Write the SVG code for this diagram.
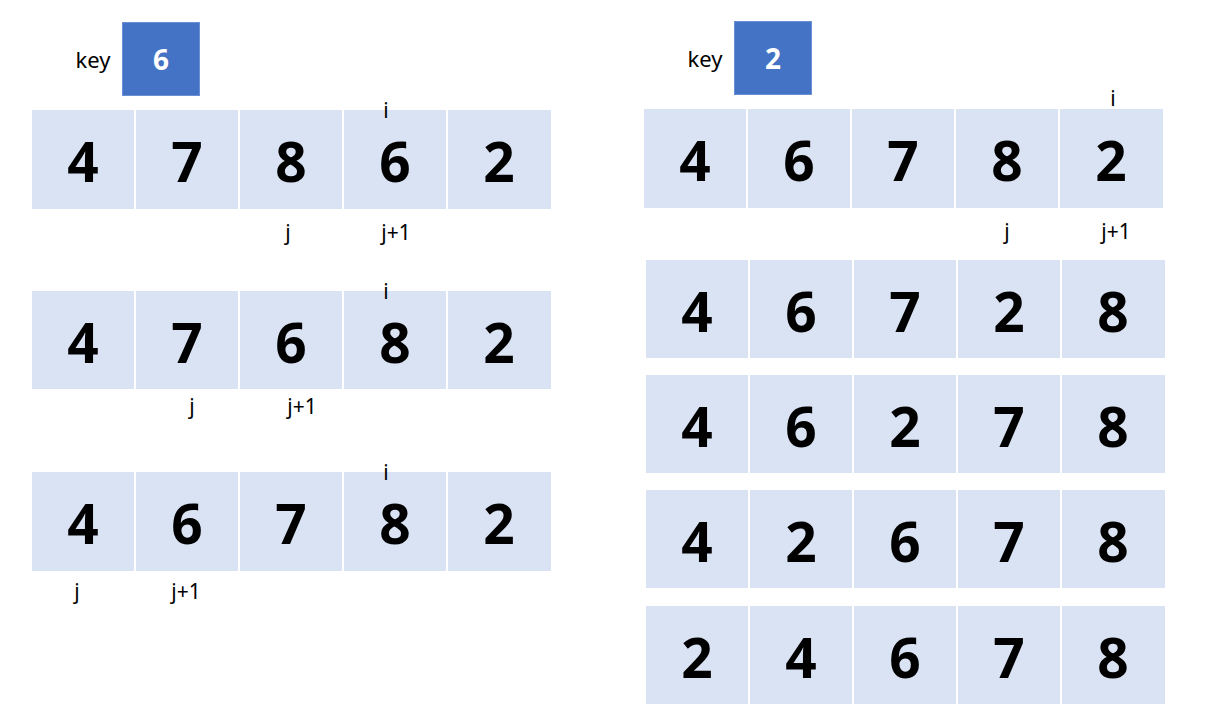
<svg xmlns="http://www.w3.org/2000/svg" width="1212" height="720" viewBox="0 0 1212 720">
<style>
.cell{fill:#DAE3F3}
.num{font-family:"Noto Sans","Liberation Sans",sans-serif;font-weight:bold;font-size:55px;fill:#000;text-anchor:middle}
.lbl{font-family:"Noto Sans","Liberation Sans",sans-serif;font-size:21px;fill:#000;text-anchor:middle}
.keytxt{font-family:"Noto Sans","Liberation Sans",sans-serif;font-size:22px;fill:#000;text-anchor:middle}
.keybox{fill:#4472C4;stroke:#6A8FD3;stroke-width:1}
.keynum{font-family:"Noto Sans","Liberation Sans",sans-serif;font-weight:bold;font-size:28px;fill:#fff;text-anchor:middle}
</style>
<rect width="1212" height="720" fill="#fff"/>

<g id="key-left">
<text class="keytxt" x="93" y="68">key</text>
<rect class="keybox" x="122.5" y="22.5" width="77" height="73"/>
<text class="keynum" x="161" y="70">6</text>
</g>

<g id="key-right">
<text class="keytxt" x="705" y="67">key</text>
<rect class="keybox" x="734.5" y="21.5" width="77" height="73"/>
<text class="keynum" x="773" y="69">2</text>
</g>

<g id="left-row1">
<rect class="cell" x="32" y="110" width="102" height="99"/>
<rect class="cell" x="136" y="110" width="102" height="99"/>
<rect class="cell" x="240" y="110" width="102" height="99"/>
<rect class="cell" x="344" y="110" width="102" height="99"/>
<rect class="cell" x="448" y="110" width="103" height="99"/>
<text class="num" x="83" y="182">4</text>
<text class="num" x="187" y="182">7</text>
<text class="num" x="291" y="182">8</text>
<text class="num" x="395" y="182">6</text>
<text class="num" x="499" y="182">2</text>
<text class="lbl" x="386" y="118">i</text>
<text class="lbl" x="288" y="240">j</text>
<text class="lbl" x="396" y="240">j+1</text>
</g>

<g id="left-row2">
<rect class="cell" x="32" y="291" width="102" height="98"/>
<rect class="cell" x="136" y="291" width="102" height="98"/>
<rect class="cell" x="240" y="291" width="102" height="98"/>
<rect class="cell" x="344" y="291" width="102" height="98"/>
<rect class="cell" x="448" y="291" width="103" height="98"/>
<text class="num" x="83" y="363">4</text>
<text class="num" x="187" y="363">7</text>
<text class="num" x="291" y="363">6</text>
<text class="num" x="395" y="363">8</text>
<text class="num" x="499" y="363">2</text>
<text class="lbl" x="386" y="299">i</text>
<text class="lbl" x="192" y="414">j</text>
<text class="lbl" x="302" y="414">j+1</text>
</g>

<g id="left-row3">
<rect class="cell" x="32" y="472" width="102" height="99"/>
<rect class="cell" x="136" y="472" width="102" height="99"/>
<rect class="cell" x="240" y="472" width="102" height="99"/>
<rect class="cell" x="344" y="472" width="102" height="99"/>
<rect class="cell" x="448" y="472" width="103" height="99"/>
<text class="num" x="83" y="544">4</text>
<text class="num" x="187" y="544">6</text>
<text class="num" x="291" y="544">7</text>
<text class="num" x="395" y="544">8</text>
<text class="num" x="499" y="544">2</text>
<text class="lbl" x="386" y="480">i</text>
<text class="lbl" x="77" y="599">j</text>
<text class="lbl" x="186" y="599">j+1</text>
</g>

<g id="right-row1">
<rect class="cell" x="644" y="109" width="102" height="99"/>
<rect class="cell" x="748" y="109" width="102" height="99"/>
<rect class="cell" x="852" y="109" width="102" height="99"/>
<rect class="cell" x="956" y="109" width="102" height="99"/>
<rect class="cell" x="1060" y="109" width="103" height="99"/>
<text class="num" x="695" y="181">4</text>
<text class="num" x="799" y="181">6</text>
<text class="num" x="903" y="181">7</text>
<text class="num" x="1007" y="181">8</text>
<text class="num" x="1111" y="181">2</text>
<text class="lbl" x="1113" y="106">i</text>
<text class="lbl" x="1007" y="239">j</text>
<text class="lbl" x="1116" y="239">j+1</text>
</g>

<g id="right-row2">
<rect class="cell" x="646" y="260" width="102" height="98"/>
<rect class="cell" x="750" y="260" width="102" height="98"/>
<rect class="cell" x="854" y="260" width="102" height="98"/>
<rect class="cell" x="958" y="260" width="102" height="98"/>
<rect class="cell" x="1062" y="260" width="103" height="98"/>
<text class="num" x="697" y="332">4</text>
<text class="num" x="801" y="332">6</text>
<text class="num" x="905" y="332">7</text>
<text class="num" x="1009" y="332">2</text>
<text class="num" x="1113" y="332">8</text>
</g>

<g id="right-row3">
<rect class="cell" x="646" y="375" width="102" height="98"/>
<rect class="cell" x="750" y="375" width="102" height="98"/>
<rect class="cell" x="854" y="375" width="102" height="98"/>
<rect class="cell" x="958" y="375" width="102" height="98"/>
<rect class="cell" x="1062" y="375" width="103" height="98"/>
<text class="num" x="697" y="447">4</text>
<text class="num" x="801" y="447">6</text>
<text class="num" x="905" y="447">2</text>
<text class="num" x="1009" y="447">7</text>
<text class="num" x="1113" y="447">8</text>
</g>

<g id="right-row4">
<rect class="cell" x="646" y="490" width="102" height="98"/>
<rect class="cell" x="750" y="490" width="102" height="98"/>
<rect class="cell" x="854" y="490" width="102" height="98"/>
<rect class="cell" x="958" y="490" width="102" height="98"/>
<rect class="cell" x="1062" y="490" width="103" height="98"/>
<text class="num" x="697" y="562">4</text>
<text class="num" x="801" y="562">2</text>
<text class="num" x="905" y="562">6</text>
<text class="num" x="1009" y="562">7</text>
<text class="num" x="1113" y="562">8</text>
</g>

<g id="right-row5">
<rect class="cell" x="646" y="606" width="102" height="98"/>
<rect class="cell" x="750" y="606" width="102" height="98"/>
<rect class="cell" x="854" y="606" width="102" height="98"/>
<rect class="cell" x="958" y="606" width="102" height="98"/>
<rect class="cell" x="1062" y="606" width="103" height="98"/>
<text class="num" x="697" y="678">2</text>
<text class="num" x="801" y="678">4</text>
<text class="num" x="905" y="678">6</text>
<text class="num" x="1009" y="678">7</text>
<text class="num" x="1113" y="678">8</text>
</g>

<g id="connectors"></g>
</svg>
